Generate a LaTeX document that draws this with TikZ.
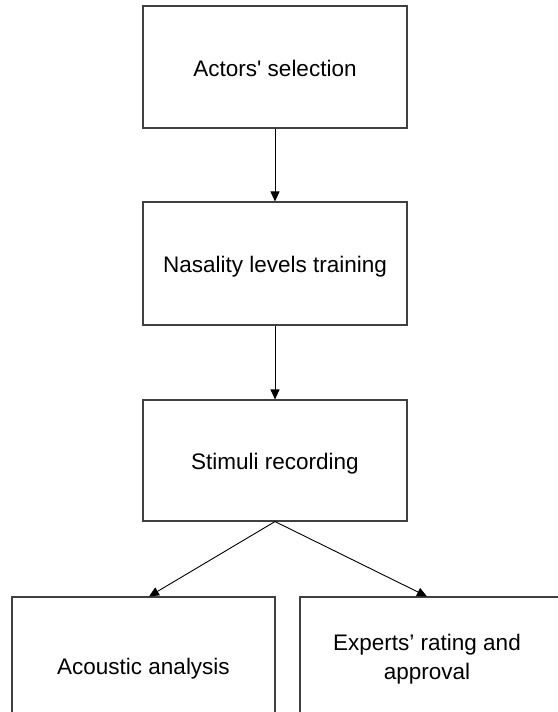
\documentclass[tikz,border=0pt]{standalone}
\usepackage{fontspec}
\setmainfont{Liberation Sans}
\usetikzlibrary{arrows.meta}
\begin{document}
\begin{tikzpicture}[>={Triangle[length=10pt,width=9pt]},x=1pt,y=-1pt,
		font=\fontsize{22.5}{29}\selectfont,
		box/.style={draw=black!75,line width=1.1pt,rectangle,inner sep=0pt,text height=18pt,text depth=0pt},
		link/.style={->,line width=.9pt}]
			\useasboundingbox (0,0) rectangle (557,712);
			\node[box,minimum width=264pt,minimum height=122pt] (actors) at (275,67) {Actors\textquotesingle{} selection};
			\node[box,minimum width=264pt,minimum height=123pt] (nasal) at (275,263.5) {Nasality levels training};
			\node[box,minimum width=264pt,minimum height=121pt] (stimuli) at (275,460.5) {Stimuli recording};
			\node[box,minimum width=263pt,minimum height=136pt] (acoustic) at (143.5,665) {Acoustic analysis};
			\node[box,minimum width=300pt,minimum height=125pt] (rating) at (450,659.5) {};
			\node[align=center,inner sep=0pt] (ratingtext) at (427,659.5) {Experts’ rating and\\approval};
			\draw[link] (actors)--(nasal);
			\draw[link] (nasal)--(stimuli);
			\draw[link] (stimuli.south)--([xshift=5.5pt]acoustic.north);
			\draw[link] (stimuli.south)--(ratingtext.north|-rating.north);
		\end{tikzpicture}
\end{document}
